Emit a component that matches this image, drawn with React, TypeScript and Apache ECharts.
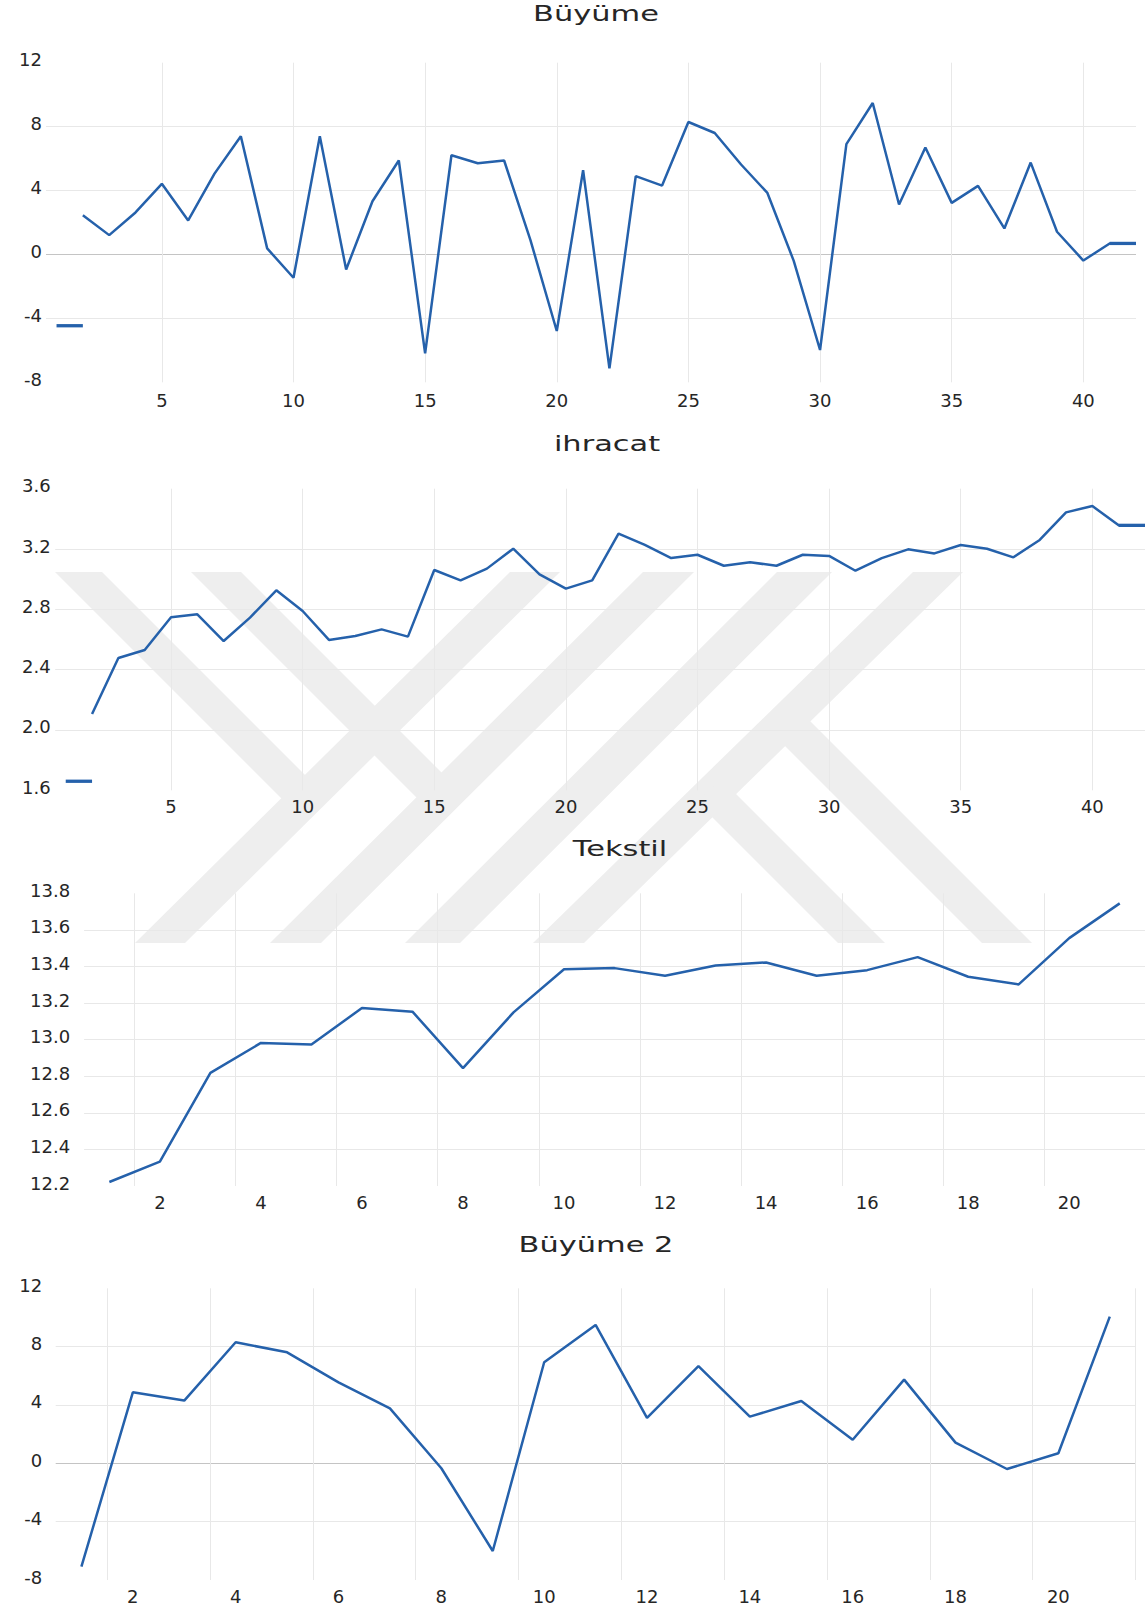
import React, { useEffect, useRef } from 'react';
import * as echarts from 'echarts';

// ---------- Panel 1: Büyüme ----------
const growthX = [2, 3, 4, 5, 6, 7, 8, 9, 10, 11, 12, 13, 14, 15, 16, 17, 18, 19, 20, 21, 22, 23, 24, 25, 26, 27, 28, 29, 30, 31, 32, 33, 34, 35, 36, 37, 38, 39, 40, 41, 42];
const growthValues = [2.46, 1.21, 2.63, 4.42, 2.13, 5.06, 7.4, 0.38, -1.46, 7.4, -0.94, 3.33, 5.88, -6.19, 6.21, 5.71, 5.88, 0.9, -4.79, 5.27, -7.13, 4.9, 4.31, 8.29, 7.6, 5.63, 3.85, -0.4, -5.98, 6.9, 9.48, 3.13, 6.69, 3.23, 4.29, 1.63, 5.75, 1.42, -0.38, 0.69, 0.69];
const growthLeftSegX = [1, 2];
const growthLeftSegValues = [-4.46, -4.46];
const growthRightSegX = [41, 42];
const growthRightSegValues = [0.69, 0.69];
const growthYLabels = [-8, -4, 0, 4, 8, 12];
const growthYLines = [-4, 0, 4, 8];

// ---------- Panel 2: ihracat ----------
const exportX = [2, 3, 4, 5, 6, 7, 8, 9, 10, 11, 12, 13, 14, 15, 16, 17, 18, 19, 20, 21, 22, 23, 24, 25, 26, 27, 28, 29, 30, 31, 32, 33, 34, 35, 36, 37, 38, 39, 40, 41, 42];
const exportValues = [2.106, 2.477, 2.53, 2.747, 2.767, 2.59, 2.745, 2.926, 2.789, 2.597, 2.623, 2.667, 2.619, 3.061, 2.992, 3.07, 3.202, 3.032, 2.937, 2.992, 3.302, 3.227, 3.14, 3.162, 3.089, 3.112, 3.089, 3.162, 3.154, 3.056, 3.14, 3.198, 3.171, 3.227, 3.202, 3.145, 3.26, 3.443, 3.485, 3.357, 3.357];
const exportLeftSegX = [1, 2];
const exportLeftSegValues = [1.66, 1.66];
const exportRightSegX = [41, 42];
const exportRightSegValues = [3.357, 3.357];
const exportYLabels = [1.6, 2.0, 2.4, 2.8, 3.2, 3.6];
const exportYLines = [2.0, 2.4, 2.8, 3.2];

// shared x ticks for panels 1-2
const longXTicks = [5, 10, 15, 20, 25, 30, 35, 40];

// ---------- Panel 3: Tekstil ----------
const textileCategories = ['1', '2', '3', '4', '5', '6', '7', '8', '9', '10', '11', '12', '13', '14', '15', '16', '17', '18', '19', '20', '21'];
const textileValues = [12.222, 12.333, 12.818, 12.982, 12.973, 13.173, 13.153, 12.844, 13.149, 13.385, 13.391, 13.349, 13.405, 13.422, 13.349, 13.38, 13.451, 13.344, 13.302, 13.555, 13.745];
const textileYLabels = [12.2, 12.4, 12.6, 12.8, 13.0, 13.2, 13.4, 13.6, 13.8];
const textileYLines = [12.4, 12.6, 12.8, 13.0, 13.2, 13.4, 13.6];

// ---------- Panel 4: Büyüme 2 ----------
const growth2Categories = ['1', '2', '3', '4', '5', '6', '7', '8', '9', '10', '11', '12', '13', '14', '15', '16', '17', '18', '19', '20', '21'];
const growth2Values = [-7.09, 4.87, 4.3, 8.3, 7.61, 5.55, 3.77, -0.34, -6.01, 6.93, 9.49, 3.11, 6.67, 3.2, 4.27, 1.62, 5.74, 1.42, -0.39, 0.69, 10.06];

const titles = ['Büyüme', 'ihracat', 'Tekstil', 'Büyüme 2'];

const LINE = '#2561ab';
const GRID = '#e8e8e8';
const ZERO = '#c4c4c4';
const TXT = '#262626';
const FONT = 'DejaVu Sans';
const WM = '#eeeeee';

const labelBase = { color: TXT, fontFamily: FONT, fontSize: 18 };

function pairs(xs: number[], ys: number[]) {
  return xs.map((x, i) => [x, ys[i]]);
}

function band(top: [number, number], bottom: [number, number], yTop: number, yBottom: number) {
  return [
    [top[0], yTop],
    [top[1], yTop],
    [bottom[1], yBottom],
    [bottom[0], yBottom],
  ];
}

export default function App() {
  const ref = useRef<HTMLDivElement>(null);

  useEffect(() => {
    if (!ref.current) return;
    const chart = echarts.init(ref.current, null, { renderer: 'svg' });

    const wmTop = 572;
    const wmBottom = 943;
    const watermarkPolys: number[][][] = [
      [[55, wmTop], [102, wmTop], [317, 787], [294, 811]],
      [[191, wmTop], [241, wmTop], [453, 784], [428, 809]],
      band([510, 560], [135, 185], wmTop, wmBottom),
      band([643, 694], [270, 321], wmTop, wmBottom),
      band([777, 832], [405, 460], wmTop, wmBottom),
      band([913, 963], [533, 584], wmTop, wmBottom),
      [[697, 802], [721, 779], [885, wmBottom], [838, wmBottom]],
      [[770, 731], [795, 706], [1032, wmBottom], [982, wmBottom]],
    ];

    const titlePos = [
      [596, 14],
      [607, 444],
      [620, 849],
      [596, 1245],
    ];

    const graphic: any[] = [
      ...watermarkPolys.map((pts) => ({
        type: 'polygon',
        z: -5,
        silent: true,
        shape: { points: pts },
        style: { fill: WM },
      })),
      ...titles.map((t, i) => ({
        type: 'text',
        x: titlePos[i][0],
        y: titlePos[i][1],
        scaleX: 1.45,
        z: 10,
        style: {
          text: t,
          fill: TXT,
          fontSize: 21,
          fontFamily: FONT,
          align: 'center',
          verticalAlign: 'middle',
          textAlign: 'center',
          textVerticalAlign: 'middle',
        },
      })),
    ];

    const valueX = (gridIndex: number, margin: number) => ({
      type: 'value',
      gridIndex,
      min: 0.6,
      max: 42,
      axisLine: { show: false },
      axisTick: { show: false, customValues: longXTicks },
      axisLabel: { ...labelBase, customValues: longXTicks, margin },
      splitLine: { show: true, lineStyle: { color: GRID, width: 1 } },
    });

    const catX = (gridIndex: number, data: string[], margin: number) => ({
      type: 'category',
      gridIndex,
      data,
      boundaryGap: true,
      axisLine: { show: false },
      axisTick: { show: false },
      axisLabel: { ...labelBase, margin, interval: (i: number) => i % 2 === 1 },
      splitLine: { show: true, interval: (i: number) => i % 2 === 1, lineStyle: { color: GRID, width: 1 } },
    });

    const valueY = (gridIndex: number, min: number, max: number, labels: number[], lines: number[], colors: string[], margin: number, decimals: number) => ({
      type: 'value',
      gridIndex,
      min,
      max,
      axisLine: { show: false },
      axisTick: { show: false, customValues: lines },
      axisLabel: {
        ...labelBase,
        customValues: labels,
        margin,
        verticalAlign: 'bottom',
        lineHeight: 6,
        formatter: (v: number) => (decimals ? v.toFixed(decimals) : String(Math.round(v))),
      },
      splitLine: { show: true, lineStyle: { color: colors, width: 1 } },
    });

    const growthColors = growthYLines.map((v) => (v === 0 ? ZERO : GRID));
    const plainColorsExport = exportYLines.map(() => GRID);
    const plainColorsTextile = textileYLines.map(() => GRID);

    const lineSeries = (xi: number, data: any[], width: number) => ({
      type: 'line',
      xAxisIndex: xi,
      yAxisIndex: xi,
      data,
      symbol: 'none',
      showSymbol: false,
      z: 3,
      lineStyle: { color: LINE, width },
      itemStyle: { color: LINE },
    });

    chart.setOption({
      animation: false,
      backgroundColor: '#ffffff',
      graphic,
      grid: [
        { left: 46, top: 62.7, width: 1090, height: 319.6 },
        { left: 55.2, top: 488.7, width: 1091, height: 301.6 },
        { left: 84.1, top: 893.3, width: 1079.4, height: 292.7 },
        { left: 55.7, top: 1288.3, width: 1079.8, height: 291.7 },
      ],
      xAxis: [
        valueX(0, 9),
        valueX(1, 7.5),
        catX(2, textileCategories, 7.5),
        catX(3, growth2Categories, 7.5),
      ],
      yAxis: [
        valueY(0, -8, 12, growthYLabels, growthYLines, growthColors, 4, 0),
        valueY(1, 1.6, 3.6, exportYLabels, exportYLines, plainColorsExport, 4.5, 1),
        valueY(2, 12.2, 13.8, textileYLabels, textileYLines, plainColorsTextile, 14, 1),
        valueY(3, -8, 12, growthYLabels, growthYLines, growthColors, 13.5, 0),
      ],
      series: [
        lineSeries(0, pairs(growthX, growthValues), 2.5),
        lineSeries(0, pairs(growthLeftSegX, growthLeftSegValues), 3.3),
        lineSeries(0, pairs(growthRightSegX, growthRightSegValues), 3.3),
        lineSeries(1, pairs(exportX, exportValues), 2.5),
        lineSeries(1, pairs(exportLeftSegX, exportLeftSegValues), 3.3),
        lineSeries(1, pairs(exportRightSegX, exportRightSegValues), 3.3),
        lineSeries(2, textileValues, 2.5),
        lineSeries(3, growth2Values, 2.5),
      ],
    });

    return () => chart.dispose();
  }, []);

  return (
    <div
      ref={ref}
      style={{ position: 'absolute', left: 0, top: 0, width: 1145, height: 1609, background: '#fff' }}
    />
  );
}
